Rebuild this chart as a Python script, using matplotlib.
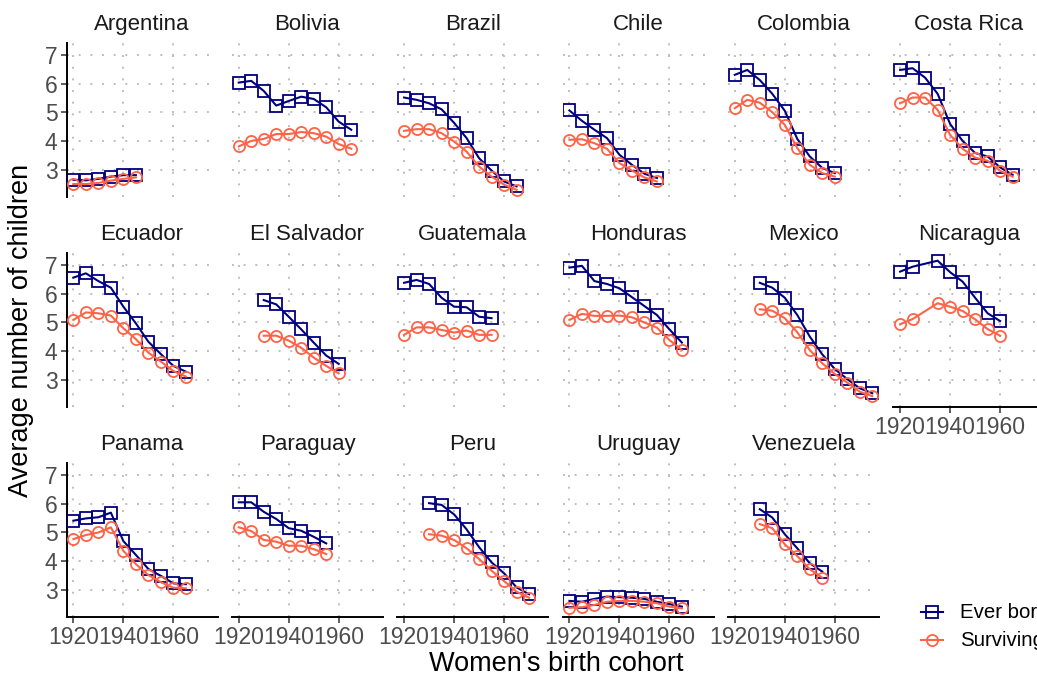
import matplotlib
matplotlib.use("Agg")
import matplotlib.pyplot as plt
from matplotlib.lines import Line2D

plt.rcParams["font.family"] = ["Liberation Sans", "DejaVu Sans"]

NAVY = "#000080"; TOMATO = "#FF6347"; GRID = "#BEBEBE"; TICK = "#4D4D4D"

# ---- data ----
countries = ["Argentina", "Bolivia", "Brazil", "Chile", "Colombia", "Costa Rica",
             "Ecuador", "El Salvador", "Guatemala", "Honduras", "Mexico", "Nicaragua",
             "Panama", "Paraguay", "Peru", "Uruguay", "Venezuela"]

argentina_years = [1920, 1925, 1930, 1935, 1940, 1945]
argentina_ever = [2.66, 2.64, 2.69, 2.77, 2.82, 2.82]
argentina_surv = [2.51, 2.51, 2.55, 2.63, 2.69, 2.74]

bolivia_years = [1920, 1925, 1930, 1935, 1940, 1945, 1950, 1955, 1960, 1965]
bolivia_ever = [6.04, 6.10, 5.75, 5.24, 5.40, 5.55, 5.47, 5.18, 4.68, 4.40]
bolivia_surv = [3.82, 4.01, 4.08, 4.25, 4.25, 4.32, 4.28, 4.16, 3.90, 3.74]

brazil_years = [1920, 1925, 1930, 1935, 1940, 1945, 1950, 1955, 1960, 1965]
brazil_ever = [5.52, 5.44, 5.32, 5.11, 4.64, 4.11, 3.41, 2.98, 2.60, 2.43]
brazil_surv = [4.36, 4.42, 4.42, 4.28, 3.99, 3.64, 3.12, 2.77, 2.49, 2.31]

chile_years = [1920, 1925, 1930, 1935, 1940, 1945, 1950, 1955]
chile_ever = [5.07, 4.71, 4.40, 4.11, 3.53, 3.18, 2.87, 2.72]
chile_surv = [4.05, 4.07, 3.93, 3.74, 3.24, 2.98, 2.74, 2.60]

colombia_years = [1920, 1925, 1930, 1935, 1940, 1945, 1950, 1955, 1960]
colombia_ever = [6.31, 6.48, 6.13, 5.65, 5.06, 4.08, 3.47, 3.07, 2.89]
colombia_surv = [5.15, 5.44, 5.34, 5.01, 4.57, 3.76, 3.18, 2.89, 2.77]

costarica_years = [1920, 1925, 1930, 1935, 1940, 1945, 1950, 1955, 1960, 1965]
costarica_ever = [6.48, 6.54, 6.21, 5.65, 4.60, 4.01, 3.59, 3.47, 3.09, 2.83]
costarica_surv = [5.32, 5.52, 5.52, 5.09, 4.22, 3.74, 3.43, 3.32, 2.97, 2.77]

ecuador_years = [1920, 1925, 1930, 1935, 1940, 1945, 1950, 1955, 1960, 1965]
ecuador_ever = [6.56, 6.71, 6.44, 6.21, 5.55, 4.97, 4.33, 3.90, 3.49, 3.29]
ecuador_surv = [5.09, 5.35, 5.32, 5.24, 4.80, 4.42, 3.95, 3.64, 3.31, 3.12]

elsalvador_years = [1930, 1935, 1940, 1945, 1950, 1955, 1960]
elsalvador_ever = [5.78, 5.63, 5.20, 4.76, 4.30, 3.85, 3.56]
elsalvador_surv = [4.54, 4.54, 4.37, 4.12, 3.78, 3.49, 3.23]

guatemala_years = [1920, 1925, 1930, 1935, 1940, 1945, 1950, 1955]
guatemala_ever = [6.38, 6.48, 6.34, 5.86, 5.55, 5.53, 5.20, 5.15]
guatemala_surv = [4.57, 4.83, 4.83, 4.74, 4.65, 4.72, 4.57, 4.57]

honduras_years = [1920, 1925, 1930, 1935, 1940, 1945, 1950, 1955, 1960, 1965]
honduras_ever = [6.91, 6.97, 6.44, 6.34, 6.19, 5.88, 5.57, 5.26, 4.76, 4.30]
honduras_surv = [5.09, 5.30, 5.23, 5.23, 5.24, 5.18, 5.00, 4.82, 4.39, 4.04]

mexico_years = [1930, 1935, 1940, 1945, 1950, 1955, 1960, 1965, 1970, 1975]
mexico_ever = [6.38, 6.21, 5.86, 5.26, 4.51, 3.89, 3.38, 3.03, 2.71, 2.54]
mexico_surv = [5.46, 5.41, 5.15, 4.66, 4.04, 3.58, 3.21, 2.91, 2.59, 2.44]

nicaragua_years = [1920, 1925, 1935, 1940, 1945, 1950, 1955, 1960]
nicaragua_ever = [6.77, 6.94, 7.15, 6.75, 6.42, 5.86, 5.32, 5.05]
nicaragua_surv = [4.94, 5.12, 5.67, 5.55, 5.40, 5.11, 4.77, 4.54]

panama_years = [1920, 1925, 1930, 1935, 1940, 1945, 1950, 1955, 1960, 1965]
panama_ever = [5.41, 5.49, 5.53, 5.69, 4.70, 4.22, 3.73, 3.49, 3.23, 3.20]
panama_surv = [4.77, 4.91, 5.00, 5.18, 4.36, 3.90, 3.52, 3.27, 3.08, 3.06]

paraguay_years = [1920, 1925, 1930, 1935, 1940, 1945, 1950, 1955]
paraguay_ever = [6.05, 6.05, 5.72, 5.47, 5.15, 5.06, 4.85, 4.62]
paraguay_surv = [5.18, 5.05, 4.74, 4.68, 4.54, 4.54, 4.42, 4.25]

peru_years = [1930, 1935, 1940, 1945, 1950, 1955, 1960, 1965, 1970]
peru_ever = [6.02, 5.96, 5.63, 5.11, 4.49, 3.96, 3.58, 3.09, 2.85]
peru_surv = [4.94, 4.89, 4.74, 4.45, 4.08, 3.67, 3.31, 2.94, 2.73]

uruguay_years = [1920, 1925, 1930, 1935, 1940, 1945, 1950, 1955, 1960, 1965]
uruguay_ever = [2.62, 2.59, 2.69, 2.77, 2.75, 2.73, 2.69, 2.59, 2.51, 2.42]
uruguay_surv = [2.38, 2.40, 2.48, 2.59, 2.62, 2.62, 2.59, 2.54, 2.42, 2.36]

venezuela_years = [1930, 1935, 1940, 1945, 1950, 1955]
venezuela_ever = [5.81, 5.52, 4.94, 4.45, 3.93, 3.64]
venezuela_surv = [5.29, 5.15, 4.59, 4.18, 3.72, 3.43]

series = [
    (argentina_years, argentina_ever, argentina_surv),
    (bolivia_years, bolivia_ever, bolivia_surv),
    (brazil_years, brazil_ever, brazil_surv),
    (chile_years, chile_ever, chile_surv),
    (colombia_years, colombia_ever, colombia_surv),
    (costarica_years, costarica_ever, costarica_surv),
    (ecuador_years, ecuador_ever, ecuador_surv),
    (elsalvador_years, elsalvador_ever, elsalvador_surv),
    (guatemala_years, guatemala_ever, guatemala_surv),
    (honduras_years, honduras_ever, honduras_surv),
    (mexico_years, mexico_ever, mexico_surv),
    (nicaragua_years, nicaragua_ever, nicaragua_surv),
    (panama_years, panama_ever, panama_surv),
    (paraguay_years, paraguay_ever, paraguay_surv),
    (peru_years, peru_ever, peru_surv),
    (uruguay_years, uruguay_ever, uruguay_surv),
    (venezuela_years, venezuela_ever, venezuela_surv),
]

x_ticks = [1920, 1940, 1960]
y_ticks = [3, 4, 5, 6, 7]

# ---- layout (pixels) ----
W, H = 1037, 678
fig = plt.figure(figsize=(W / 100, H / 100), dpi=100)
fig.patch.set_facecolor("white")
LEFT0, STEP, PW, PH = 66.5, 165.35, 151.25, 153.8
BOTTOMS = [197, 407, 617]
NCOL = 6
n = len(countries)
FS = 16.5

for i, (name, (yrs, ever, surv)) in enumerate(zip(countries, series)):
    r, c = divmod(i, NCOL)
    x0 = LEFT0 + c * STEP
    ax = fig.add_axes([x0 / W, 1 - BOTTOMS[r] / H, PW / W, PH / H])
    ax.set_xlim(1917.25, 1977.75); ax.set_ylim(2.06, 7.41)
    ax.set_xticks(x_ticks); ax.set_yticks(y_ticks)
    ax.grid(True, color=GRID, lw=1.4, linestyle=(0, (1, 5)))
    ax.set_axisbelow(True)
    for s in ax.spines.values():
        s.set_visible(False)
    ax.plot(yrs, ever, color=NAVY, lw=1.5, marker="s", ms=8, mfc="none", mec=NAVY, mew=1.3, zorder=3)
    ax.plot(yrs, surv, color=TOMATO, lw=1.5, marker="o", ms=8, mfc="none", mec=TOMATO, mew=1.3, zorder=3)
    ax.text(0.5, 1.085, name, transform=ax.transAxes, ha="center", va="baseline",
            fontsize=16, color="#1A1A1A")
    show_x = (i + NCOL >= n)
    show_y = (c == 0)
    ax.tick_params(axis="both", colors="#333333", labelcolor=TICK, labelsize=FS,
                   length=4, width=1.1, pad=2.5)
    if show_x:
        ax.spines["bottom"].set_visible(True)
        ax.spines["bottom"].set_linewidth(1.4)
        ax.spines["bottom"].set_color("black")
    else:
        ax.tick_params(axis="x", bottom=False, labelbottom=False)
    if show_y:
        ax.spines["left"].set_visible(True)
        ax.spines["left"].set_linewidth(1.4)
        ax.spines["left"].set_color("black")
    else:
        ax.tick_params(axis="y", left=False, labelleft=False)

fig.text(21 / W, 1 - 330 / H, "Average number of children", rotation=90,
         ha="center", va="center", fontsize=19.5)
fig.text(556 / W, 1 - 664 / H, "Women's birth cohort", ha="center", va="center", fontsize=19.5)

# legend
for ly, col, mk, lbl in [(612, NAVY, "s", "Ever born"), (640, TOMATO, "o", "Surviving")]:
    yy = 1 - ly / H
    fig.add_artist(Line2D([921 / W, 943 / W], [yy, yy], transform=fig.transFigure, color=col, lw=1.5))
    fig.add_artist(Line2D([932 / W], [yy], transform=fig.transFigure, color=col, marker=mk, ms=8,
                          mfc="none", mec=col, mew=1.3, lw=0))
    fig.text(960 / W, yy, lbl, ha="left", va="center", fontsize=14.7)

fig.savefig("out.png", dpi=100, facecolor="white")
